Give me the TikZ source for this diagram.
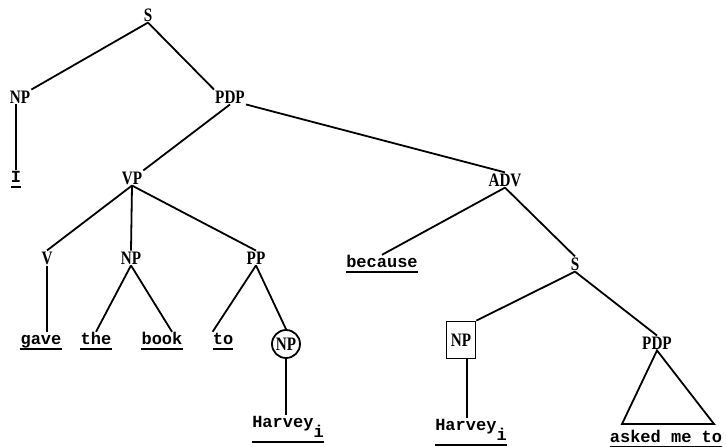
\documentclass[tikz,border=0pt]{standalone}
\usepackage{fontspec}
\newfontfamily\leaffont{Liberation Mono}
\newfontfamily\catfont{Liberation Serif}[FakeStretch=0.8]

\begin{document}
\begin{tikzpicture}[x=1pt,y=-1pt,
  cat/.style={font=\catfont\bfseries\fontsize{19}{19}\selectfont, inner sep=1pt},
  leaf/.style={font=\leaffont\bfseries\fontsize{17}{17}\selectfont, anchor=base, inner sep=0pt, text height=12pt, text depth=4.5pt},
  harvey/.style={text depth=15pt},
  branch/.style={line width=1.8pt},
  uline/.style={line width=1.8pt}]
\useasboundingbox (0,0) rectangle (726,447);
% categories
\node[cat] (S) at (148,15) {S};
\node[cat] (NPa) at (20,97) {NP};
\node[cat] (PDPa) at (230,97) {PDP};
\node[cat] (VP) at (132,178) {VP};
\node[cat] (ADV) at (505,180) {ADV};
\node[cat] (V) at (47,258) {V};
\node[cat] (NPb) at (131,258) {NP};
\node[cat] (PP) at (256,258) {PP};
\node[cat] (Sb) at (575,264) {S};
\node[cat,draw,circle,line width=1.8pt,minimum size=28pt,inner sep=0pt] (NPc) at (286,344) {NP};
\node[cat,draw,line width=1.8pt,minimum width=29pt,minimum height=37pt] (NPd) at (461,340) {NP};
\node[cat] (PDPb) at (657,343) {PDP};
% words
\node[leaf] (I) at (16,182) {I};
\node[leaf] (because) at (382,267) {because};
\node[leaf] (gave) at (41,344) {gave};
\node[leaf] (the) at (96,344) {the};
\node[leaf] (book) at (162,344) {book};
\node[leaf] (to) at (223,344) {to};
\node[leaf,harvey] (harveyA) at (288,427) {Harvey\raisebox{-10pt}{i}};
\node[leaf,harvey] (harveyB) at (471,430) {Harvey\raisebox{-10pt}{i}};
\node[leaf] (asked) at (666,442) {asked me to};
% branches
\draw[branch] (S.south) -- (NPa.north east);
\draw[branch] (S.south) -- (PDPa.north west);
\draw[branch] (I.north |- NPa.south) -- (I.north);
\draw[branch] (PDPa.south) -- (VP.north east);
\draw[branch] (PDPa.south east) -- (ADV.north);
\draw[branch] (VP.south) -- (V.north);
\draw[branch] (VP.south) -- (NPb.north);
\draw[branch] (VP.south) -- (PP.north);
\draw[branch] (V.south) -- (V.south |- gave.north);
\draw[branch] (NPb.south) -- (the.north);
\draw[branch] (NPb.south) -- ([xshift=10pt]book.north);
\draw[branch] (PP.south) -- (to.north west);
\draw[branch] (PP.south) -- (NPc.north);
\draw[branch] (NPc.south) -- (NPc.south |- harveyA.north);
\draw[branch] (ADV.south) -- (because.north);
\draw[branch] (ADV.south) -- (Sb.north);
\draw[branch] (Sb.south) -- (NPd.north east);
\draw[branch] (Sb.south) -- (PDPb.north);
\draw[branch] ([xshift=6pt]NPd.south) -- ([xshift=6pt]NPd.south |- harveyB.north);
\coordinate (triL) at (622,424);
\coordinate (triR) at (714,424);
\draw[branch] (PDPb.south) -- (triL) -- (triR) -- cycle;
% underlines
\foreach \w in {I,because,gave,the,book,to,harveyA,harveyB,asked}
  \draw[uline] (\w.south west) -- (\w.south east);
\end{tikzpicture}
\end{document}
